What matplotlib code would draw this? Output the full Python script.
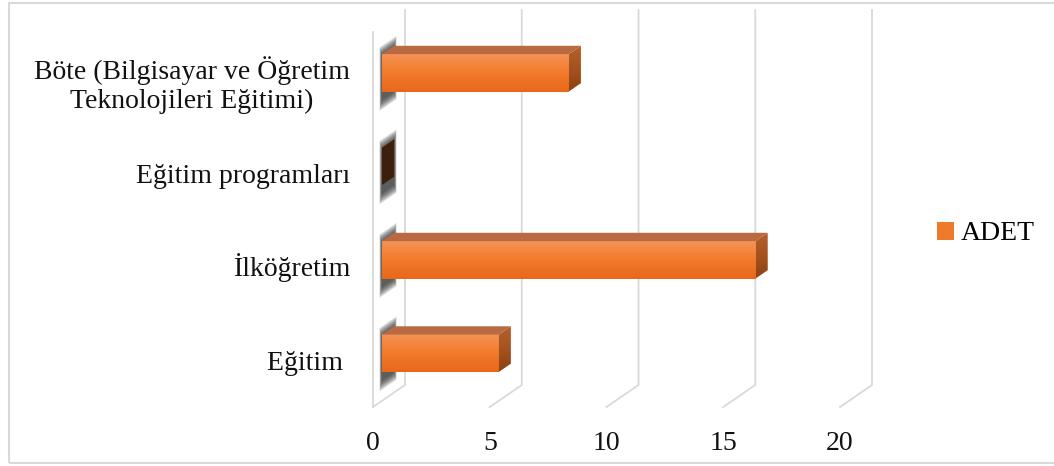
import matplotlib
matplotlib.use('Agg')
import matplotlib.pyplot as plt
import numpy as np
from matplotlib.patches import Polygon, Rectangle, Patch
from matplotlib.colors import LinearSegmentedColormap

# data (bottom to top)
categories = ['Eğitim ', 'İlköğretim', 'Eğitim programları',
              'Böte (Bilgisayar ve Öğretim\nTeknolojileri Eğitimi)']
adet = [5, 16, 0, 8]
ticks = [0, 5, 10, 15, 20]
series_name = 'ADET'

plt.rcParams['font.family'] = ['Liberation Serif', 'DejaVu Serif']

W, H = 1054, 466
fig = plt.figure(figsize=(W/100, H/100), dpi=100)
ax = fig.add_axes([0, 0, 1, 1])
ax.axis('off')

# pixel mapping -> data units
x0px, pxv = 373, 23.35         # value 0 at front, px per unit
c0px, pxc = 359.5, 93.5        # category 0 at front, px per category
DX, DY = 32/pxv, 22/pxc        # depth offset of the back wall
floor_y = (c0px-407)/pxc
top_y = (c0px-32)/pxc
z0, z1, hh = 0.28, 0.66, 0.2

def P(v, c, z):
    return (v + z*DX, c + z*DY)

grid_c = '#d9d9d9'
# walls / gridlines
ax.plot([0, 0], [floor_y, top_y], color=grid_c, lw=1.3, zorder=1)
for t in ticks:
    a = P(t, floor_y, 0); b = P(t, floor_y, 1); c = P(t, top_y, 1)
    ax.plot([a[0], b[0], c[0]], [a[1], b[1], c[1]], color=grid_c, lw=1.3, zorder=1)
    ax.text(t, floor_y-0.39, str(t), ha='center', va='center', fontsize=20, color='#111111')

front_cm = LinearSegmentedColormap.from_list('f', ['#e8681a', '#f27a2a', '#f59355'])
side_cm = LinearSegmentedColormap.from_list('s', ['#8a4214', '#a5521f', '#b4602c'])
grad = np.linspace(0, 1, 64).reshape(-1, 1)

for i, (lab, v) in enumerate(zip(categories, adet)):
    c = i
    # blurred shadow on the zero wall
    n = 10
    for k in range(n):
        e = 0.11*(1-k/n)
        ex = 0.3*(1-k/n)
        pts = [P(0, c-hh-e-0.08, z0-ex*0.25), P(0, c-hh-e-0.08, z1+ex*0.25),
               P(0, c+hh+e-0.02, z1+ex*0.25), P(0, c+hh+e-0.02, z0-ex*0.25)]
        ax.add_patch(Polygon(pts, closed=True, fc='#2a2a2a', ec='none', alpha=0.13, zorder=2))
    if v > 0:
        # front face
        fx0, fy0 = P(0, c-hh, z0)
        fx1, fy1 = P(v, c+hh, z0)
        ax.imshow(grad, cmap=front_cm, extent=[fx0, fx1, fy0, fy1], origin='lower',
                  aspect='auto', zorder=4, interpolation='bilinear')
        # top face
        ax.add_patch(Polygon([P(0, c+hh, z0), P(v, c+hh, z0), P(v, c+hh, z1), P(0, c+hh, z1)],
                             closed=True, fc='#b96a43', ec='none', zorder=4))
        # side face
        side = Polygon([P(v, c-hh, z0), P(v, c-hh, z1), P(v, c+hh, z1), P(v, c+hh, z0)],
                       closed=True, fc='none', ec='none', zorder=4)
        ax.add_patch(side)
        sx0, sy0 = P(v, c-hh, z0)
        sx1, sy1 = P(v, c+hh, z1)
        im = ax.imshow(grad, cmap=side_cm, extent=[sx0, sx1, sy0, sy1], origin='lower',
                       aspect='auto', zorder=4, interpolation='bilinear')
        im.set_clip_path(side)
    else:
        ax.add_patch(Polygon([P(0, c-hh, z0), P(0, c-hh, z1), P(0, c+hh, z1), P(0, c+hh, z0)],
                             closed=True, fc='#3d1f0b', ec='none', zorder=4))
    nl = lab.count('\n')
    ax.text(-0.985, c-0.112-nl*0.198, lab, ha='right', va='baseline', multialignment='center',
            fontsize=20, color='#111111', linespacing=1.22)

ax.set_xlim(-x0px/pxv, (W-x0px)/pxv)
ax.set_ylim((c0px-H)/pxc, c0px/pxc)

leg = fig.legend(handles=[Patch(fc='#f07a2c', ec='none')], labels=[series_name],
                 loc='center left', bbox_to_anchor=(937/W, (H-234)/H), frameon=False,
                 fontsize=20, handlelength=0.6, handleheight=0.6, handletextpad=0.25,
                 borderpad=0, borderaxespad=0)

fig.add_artist(Rectangle((9/W, 3/H), 1.2, 460/H, transform=fig.transFigure,
                         fc='none', ec='#d9d9d9', lw=1.5))

fig.savefig('out.png', dpi=100)
